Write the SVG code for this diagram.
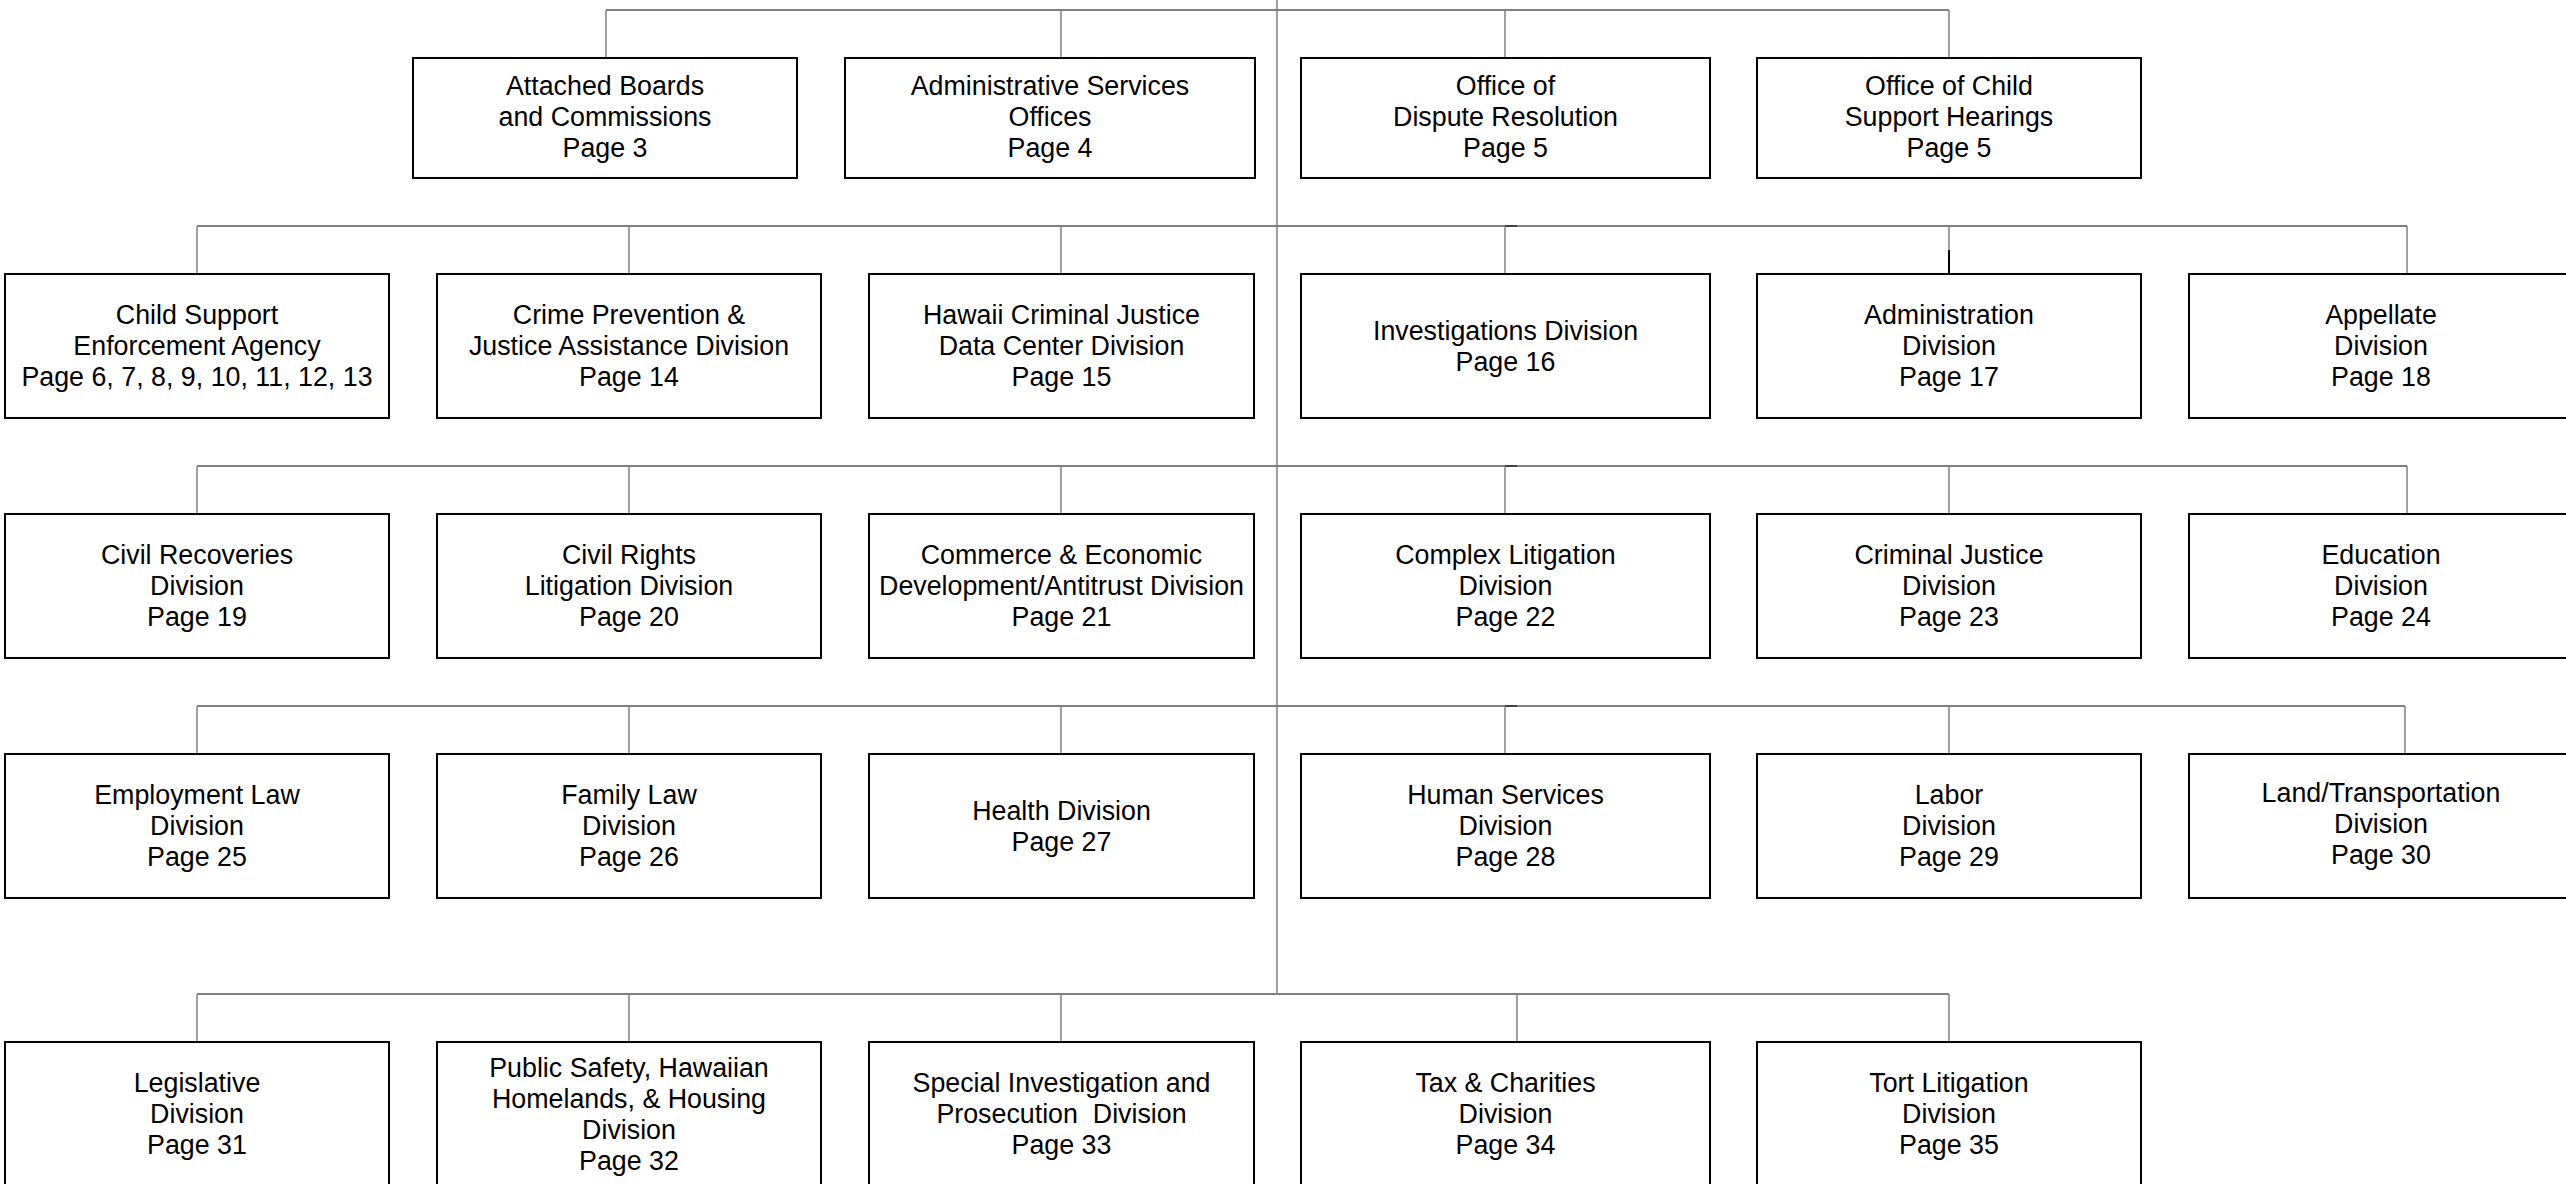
<svg xmlns="http://www.w3.org/2000/svg" width="2566" height="1184" viewBox="0 0 2566 1184">
<style>
.bg{fill:#ffffff}
.box{fill:#ffffff;stroke:#000000;stroke-width:2}
.conn{stroke:#808080;stroke-width:1.5;fill:none}
.hconn{stroke:#808080;stroke-width:2;fill:none}
.dark{stroke:#404040;stroke-width:2;fill:none}
.blk{stroke:#000000;stroke-width:2;fill:none}
text{font-family:"Liberation Sans",Arial,sans-serif;font-size:26.8px;fill:#000000;text-anchor:middle}
</style>
<rect class="bg" x="0" y="0" width="2566" height="1184"/>
<g id="connectors">
  <line class="conn" x1="1277" y1="0" x2="1277" y2="994"/>
  <line class="hconn" x1="606" y1="10" x2="1949" y2="10"/>
  <line class="conn" x1="606" y1="10" x2="606" y2="58"/>
  <line class="conn" x1="1061" y1="10" x2="1061" y2="58"/>
  <line class="conn" x1="1505" y1="10" x2="1505" y2="58"/>
  <line class="conn" x1="1949" y1="10" x2="1949" y2="58"/>
  <line class="hconn" x1="197" y1="226" x2="2407" y2="226"/>
  <line class="dark" x1="1505" y1="226" x2="1517" y2="226"/>
  <line class="conn" x1="197" y1="226" x2="197" y2="274"/>
  <line class="conn" x1="629" y1="226" x2="629" y2="274"/>
  <line class="conn" x1="1061" y1="226" x2="1061" y2="274"/>
  <line class="conn" x1="1505" y1="226" x2="1505" y2="274"/>
  <line class="conn" x1="1949" y1="226" x2="1949" y2="250"/>
  <line class="blk" x1="1949" y1="250" x2="1949" y2="274"/>
  <line class="conn" x1="2407" y1="226" x2="2407" y2="274"/>
  <line class="hconn" x1="197" y1="466" x2="2407" y2="466"/>
  <line class="dark" x1="1505" y1="466" x2="1517" y2="466"/>
  <line class="conn" x1="197" y1="466" x2="197" y2="514"/>
  <line class="conn" x1="629" y1="466" x2="629" y2="514"/>
  <line class="conn" x1="1061" y1="466" x2="1061" y2="514"/>
  <line class="conn" x1="1505" y1="466" x2="1505" y2="514"/>
  <line class="conn" x1="1949" y1="466" x2="1949" y2="514"/>
  <line class="conn" x1="2407" y1="466" x2="2407" y2="514"/>
  <line class="hconn" x1="197" y1="706" x2="2405" y2="706"/>
  <line class="dark" x1="1505" y1="706" x2="1517" y2="706"/>
  <line class="conn" x1="197" y1="706" x2="197" y2="754"/>
  <line class="conn" x1="629" y1="706" x2="629" y2="754"/>
  <line class="conn" x1="1061" y1="706" x2="1061" y2="754"/>
  <line class="conn" x1="1505" y1="706" x2="1505" y2="754"/>
  <line class="conn" x1="1949" y1="706" x2="1949" y2="754"/>
  <line class="conn" x1="2405" y1="706" x2="2405" y2="754"/>
  <line class="hconn" x1="197" y1="994" x2="1949" y2="994"/>
  <line class="conn" x1="197" y1="994" x2="197" y2="1042"/>
  <line class="conn" x1="629" y1="994" x2="629" y2="1042"/>
  <line class="conn" x1="1061" y1="994" x2="1061" y2="1042"/>
  <line class="conn" x1="1517" y1="994" x2="1517" y2="1042"/>
  <line class="conn" x1="1949" y1="994" x2="1949" y2="1042"/>
</g>
<!-- Row 1 -->
<g id="attached-boards"><rect class="box" x="413" y="58" width="384" height="120"/><text x="605" y="95">Attached Boards</text><text x="605" y="126">and Commissions</text><text x="605" y="157">Page 3</text></g>
<g id="admin-services"><rect class="box" x="845" y="58" width="410" height="120"/><text x="1050" y="95">Administrative Services</text><text x="1050" y="126">Offices</text><text x="1050" y="157">Page 4</text></g>
<g id="dispute-resolution"><rect class="box" x="1301" y="58" width="409" height="120"/><text x="1505.5" y="95">Office of</text><text x="1505.5" y="126">Dispute Resolution</text><text x="1505.5" y="157">Page 5</text></g>
<g id="child-support-hearings"><rect class="box" x="1757" y="58" width="384" height="120"/><text x="1949" y="95">Office of Child</text><text x="1949" y="126">Support Hearings</text><text x="1949" y="157">Page 5</text></g>
<!-- Row 2 -->
<g id="csea"><rect class="box" x="5" y="274" width="384" height="144"/><text x="197" y="324">Child Support</text><text x="197" y="355">Enforcement Agency</text><text x="197" y="386">Page 6, 7, 8, 9, 10, 11, 12, 13</text></g>
<g id="crime-prevention"><rect class="box" x="437" y="274" width="384" height="144"/><text x="629" y="324">Crime Prevention &amp;</text><text x="629" y="355">Justice Assistance Division</text><text x="629" y="386">Page 14</text></g>
<g id="hcjdc"><rect class="box" x="869" y="274" width="385" height="144"/><text x="1061.5" y="324">Hawaii Criminal Justice</text><text x="1061.5" y="355">Data Center Division</text><text x="1061.5" y="386">Page 15</text></g>
<g id="investigations"><rect class="box" x="1301" y="274" width="409" height="144"/><text x="1505.5" y="339.5">Investigations Division</text><text x="1505.5" y="370.5">Page 16</text></g>
<g id="administration"><rect class="box" x="1757" y="274" width="384" height="144"/><text x="1949" y="324">Administration</text><text x="1949" y="355">Division</text><text x="1949" y="386">Page 17</text></g>
<g id="appellate"><rect class="box" x="2189" y="274" width="385" height="144"/><text x="2381" y="324">Appellate</text><text x="2381" y="355">Division</text><text x="2381" y="386">Page 18</text></g>
<!-- Row 3 -->
<g id="civil-recoveries"><rect class="box" x="5" y="514" width="384" height="144"/><text x="197" y="564">Civil Recoveries</text><text x="197" y="595">Division</text><text x="197" y="626">Page 19</text></g>
<g id="civil-rights"><rect class="box" x="437" y="514" width="384" height="144"/><text x="629" y="564">Civil Rights</text><text x="629" y="595">Litigation Division</text><text x="629" y="626">Page 20</text></g>
<g id="commerce"><rect class="box" x="869" y="514" width="385" height="144"/><text x="1061.5" y="564">Commerce &amp; Economic</text><text x="1061.5" y="595">Development/Antitrust Division</text><text x="1061.5" y="626">Page 21</text></g>
<g id="complex-litigation"><rect class="box" x="1301" y="514" width="409" height="144"/><text x="1505.5" y="564">Complex Litigation</text><text x="1505.5" y="595">Division</text><text x="1505.5" y="626">Page 22</text></g>
<g id="criminal-justice"><rect class="box" x="1757" y="514" width="384" height="144"/><text x="1949" y="564">Criminal Justice</text><text x="1949" y="595">Division</text><text x="1949" y="626">Page 23</text></g>
<g id="education"><rect class="box" x="2189" y="514" width="385" height="144"/><text x="2381" y="564">Education</text><text x="2381" y="595">Division</text><text x="2381" y="626">Page 24</text></g>
<!-- Row 4 -->
<g id="employment-law"><rect class="box" x="5" y="754" width="384" height="144"/><text x="197" y="804">Employment Law</text><text x="197" y="835">Division</text><text x="197" y="866">Page 25</text></g>
<g id="family-law"><rect class="box" x="437" y="754" width="384" height="144"/><text x="629" y="804">Family Law</text><text x="629" y="835">Division</text><text x="629" y="866">Page 26</text></g>
<g id="health"><rect class="box" x="869" y="754" width="385" height="144"/><text x="1061.5" y="819.5">Health Division</text><text x="1061.5" y="850.5">Page 27</text></g>
<g id="human-services"><rect class="box" x="1301" y="754" width="409" height="144"/><text x="1505.5" y="804">Human Services</text><text x="1505.5" y="835">Division</text><text x="1505.5" y="866">Page 28</text></g>
<g id="labor"><rect class="box" x="1757" y="754" width="384" height="144"/><text x="1949" y="804">Labor</text><text x="1949" y="835">Division</text><text x="1949" y="866">Page 29</text></g>
<g id="land-transportation"><rect class="box" x="2189" y="754" width="385" height="144"/><text x="2381" y="802">Land/Transportation</text><text x="2381" y="833">Division</text><text x="2381" y="864">Page 30</text></g>
<!-- Row 5 -->
<g id="legislative"><rect class="box" x="5" y="1042" width="384" height="144"/><text x="197" y="1092">Legislative</text><text x="197" y="1123">Division</text><text x="197" y="1154">Page 31</text></g>
<g id="public-safety"><rect class="box" x="437" y="1042" width="384" height="144"/><text x="629" y="1076.5">Public Safety, Hawaiian</text><text x="629" y="1107.5">Homelands, &amp; Housing</text><text x="629" y="1138.5">Division</text><text x="629" y="1169.5">Page 32</text></g>
<g id="special-investigation"><rect class="box" x="869" y="1042" width="385" height="144"/><text x="1061.5" y="1092">Special Investigation and</text><text x="1061.5" y="1123">Prosecution &#160;Division</text><text x="1061.5" y="1154">Page 33</text></g>
<g id="tax-charities"><rect class="box" x="1301" y="1042" width="409" height="144"/><text x="1505.5" y="1092">Tax &amp; Charities</text><text x="1505.5" y="1123">Division</text><text x="1505.5" y="1154">Page 34</text></g>
<g id="tort-litigation"><rect class="box" x="1757" y="1042" width="384" height="144"/><text x="1949" y="1092">Tort Litigation</text><text x="1949" y="1123">Division</text><text x="1949" y="1154">Page 35</text></g>
</svg>
